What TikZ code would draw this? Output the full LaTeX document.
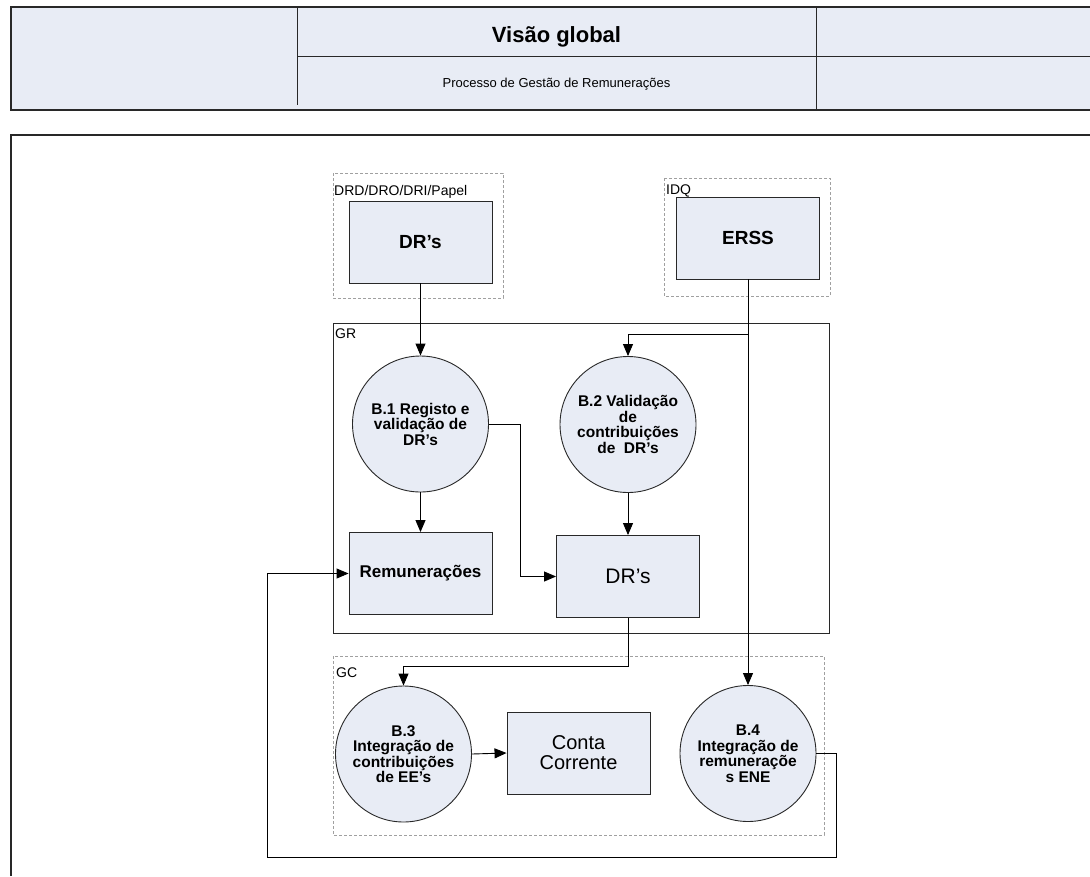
\documentclass[tikz,border=0pt]{standalone}
\usepackage{fontspec}
\setmainfont{Liberation Sans}
\usetikzlibrary{arrows.meta}
\definecolor{boxfill}{RGB}{232,236,245}
\definecolor{edge}{RGB}{40,40,40}
\definecolor{groupgray}{RGB}{160,160,160}
\newcommand{\fs}[1]{\fontsize{#1}{#1}\selectfont}
\begin{document}
\begin{tikzpicture}[x=1pt,y=-1pt,
  store/.style={draw=edge,fill=boxfill,line width=0.9,minimum width=143,minimum height=82,inner sep=0,align=center},
  proc/.style={draw=edge,fill=boxfill,line width=0.9,circle,minimum size=136,inner sep=0,align=center,font=\bfseries\fs{15.5}},
  dashgroup/.style={draw=groupgray,line width=0.8,dash pattern=on 3pt off 2pt},
  solidgroup/.style={draw=edge,line width=0.9},
  grouplabel/.style={anchor=base west,inner sep=0,font=\fs{14}},
  arr/.style={draw=black,line width=0.9,-{Triangle[length=12pt,width=10pt]}},
  line/.style={draw=black,line width=0.9}]
\useasboundingbox (0,0) rectangle (1090,876);

% page header
\fill[boxfill] (11,7) rectangle (1090,110);
\draw[edge,line width=1.3] (1090,7) -- (11,7) -- (11,110) -- (1090,110);
\draw[edge,line width=1] (297,7) -- (297,105);
\draw[edge,line width=1] (816,7) -- (816,110);
\draw[edge,line width=1] (297,56) -- (1090,56);
\node[anchor=base,inner sep=0,font=\bfseries\fs{22}] (title) at (556.5,42) {Visão global};
\node[anchor=base,inner sep=0,font=\fs{13}] (subtitle) at (556.5,87) {Processo de Gestão de Remunerações};

% page frame
\draw[edge,line width=1.3] (11,876) -- (11,135) -- (1090,135);

% groups
\draw[dashgroup] (333,173) rectangle (503,298);
\node[grouplabel] (gdrd) at (334,195) {DRD/DRO/DRI/Papel};
\draw[dashgroup] (664,178) rectangle (830,296);
\node[grouplabel] (gidq) at (666,194) {IDQ};
\draw[solidgroup] (333,323) rectangle (829,633);
\node[grouplabel] (ggr) at (335,338) {GR};
\draw[dashgroup] (333,656) rectangle (824,835);
\node[grouplabel] (ggc) at (336,677) {GC};

% data stores
\node[store,font=\bfseries\fs{19}] (dr1) at (420.5,242) {DR’s};
\node[store,font=\bfseries\fs{19}] (erss) at (748,238) {ERSS};
\node[store,font=\bfseries\fs{17}] (rem) at (420.5,573.5) {Remunerações};
\node[store,font=\fs{21}] (dr2) at (628,576.5) {DR’s};
\node[store,font=\fs{20}] (conta) at (578.5,753) {\fontsize{20}{22}\selectfont Conta\\Corrente};

% processes
\node[proc] (b1) at (420.5,424) {\fontsize{15.5}{18.5}\selectfont B.1 Registo e\\validação de\\DR’s};
\node[proc] (b2) at (628,424.5) {\fontsize{15.5}{18.5}\selectfont B.2 Validação\\de\\contribuições\\de\ \ DR’s};
\node[proc] (b3) at (403.5,754) {\fontsize{15.5}{19}\selectfont B.3\\Integração de\\contribuições\\de EE’s};
\node[proc] (b4) at (748,753.5) {\fontsize{15.5}{19}\selectfont B.4\\Integração de\\remuneraçõe\\s ENE};

% flows
\coordinate (split) at (748,334);
\coordinate (loopr) at (836,857);
\coordinate (loopl) at (267,857);
\draw[arr] (dr1.south) -- (b1.north);
\draw[arr] (erss.south) -- (b4.north);
\draw[arr] (split) -| (b2.north);
\draw[arr] (b1.south) -- (rem.north);
\draw[arr] (b1.east) -- ++(31,0) |- (dr2.west);
\draw[arr] (b2.south) -- (dr2.north);
\draw[arr] (dr2.south) -- ++(0,48) -| (b3.north);
\draw[arr] (b3.east) -- (conta.west);
\draw[arr] (b4.east) -| (loopr) -- (loopl) |- (rem.west);
\end{tikzpicture}
\end{document}
